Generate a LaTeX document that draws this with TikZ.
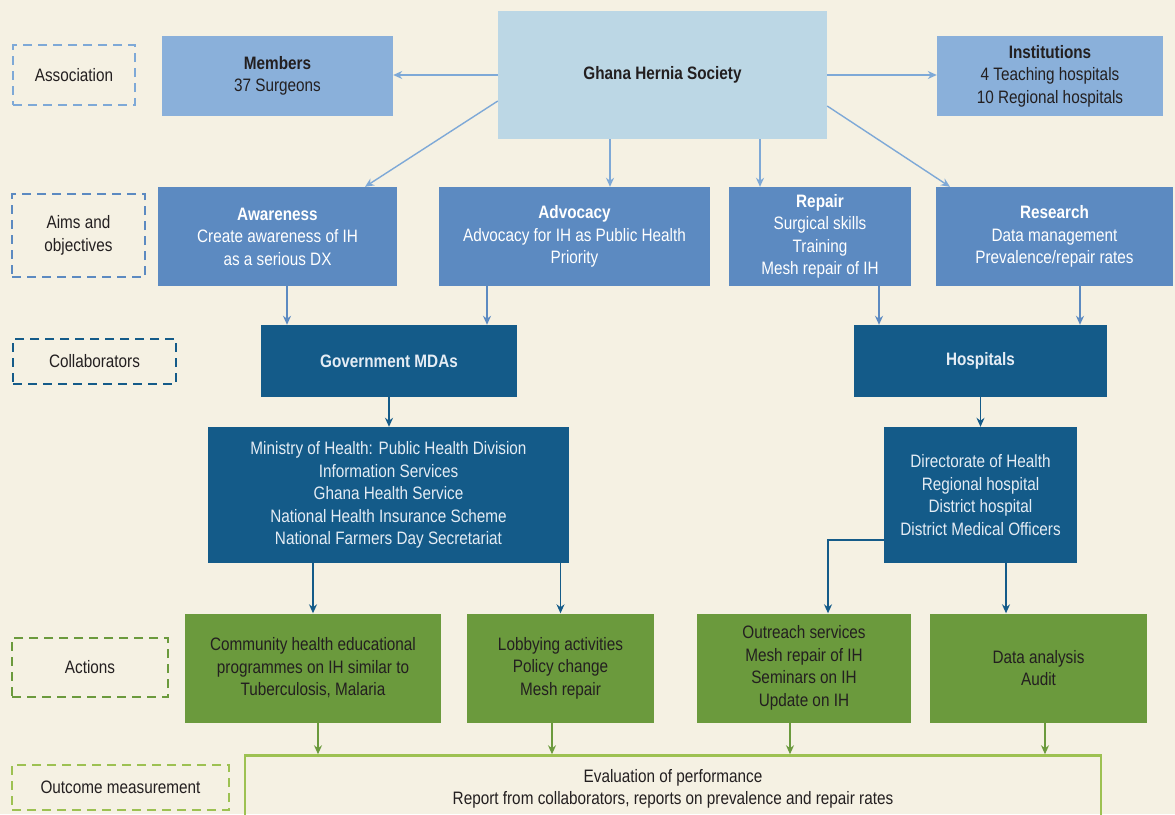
\documentclass[tikz,border=0pt]{standalone}
\usepackage{fontspec}
\setmainfont{Liberation Sans}[FakeStretch=0.85]
\usetikzlibrary{arrows.meta}
\definecolor{bgcream}{HTML}{F5F1E3}
\definecolor{ghsblue}{HTML}{BCD7E5}
\definecolor{assocblue}{HTML}{8AB0DA}
\definecolor{aimblue}{HTML}{5C8AC1}
\definecolor{collblue}{HTML}{145B89}
\definecolor{actgreen}{HTML}{6B9A3D}
\definecolor{outgreen}{HTML}{9DC152}
\definecolor{darktext}{HTML}{231F20}
\definecolor{linkblue}{HTML}{7EA9D7}
\definecolor{paletext}{HTML}{E4ECF4}

\tikzset{
  box/.style={align=center, inner sep=0pt, font=\fontsize{18}{22.5}\selectfont},
  assocbox/.style={box, fill=assocblue, text=darktext},
  aimbox/.style={box, fill=aimblue, text=white},
  collbox/.style={box, fill=collblue, text=paletext},
  actbox/.style={box, fill=actgreen, text=darktext},
  tag/.style={box, draw, line width=2pt, dash pattern=on 9pt off 6pt, text=darktext},
  arr/.style={-{Stealth[length=9pt,width=8pt]}, line width=1.4pt},
}

\begin{document}
\begin{tikzpicture}[x=1pt, y=-1pt]
  \fill[bgcream] (0, 0) rectangle (1175, 814);
  \useasboundingbox (0, 0) rectangle (1175, 814);

  \node[tag, draw=linkblue, minimum width=122pt, minimum height=60pt] (tagassoc) at (74, 75) {Association};
  \node[tag, draw=aimblue, minimum width=133pt, minimum height=83pt] (tagaims) at (78.5, 235.5) {Aims and\\objectives};
  \node[tag, draw=collblue, minimum width=163pt, minimum height=45pt] (tagcoll) at (94.5, 361.5) {Collaborators};
  \node[tag, draw=actgreen, minimum width=156pt, minimum height=59pt] (tagact) at (90, 667.5) {Actions};
  \node[tag, draw=outgreen, minimum width=217pt, minimum height=45pt] (tagout) at (120.5, 787.5) {Outcome measurement};

  \node[box, fill=ghsblue, text=darktext, minimum width=329pt, minimum height=128pt] (ghs) at (662.5, 75) {\textbf{Ghana Hernia Society}};
  \node[assocbox, minimum width=231pt, minimum height=80pt] (members) at (277.5, 76) {\textbf{Members}\\37 Surgeons};
  \node[assocbox, minimum width=226pt, minimum height=80pt] (inst) at (1050, 76) {\textbf{Institutions}\\4 Teaching hospitals\\10 Regional hospitals};

  \node[aimbox, minimum width=239pt, minimum height=99pt] (aware) at (277.5, 236.5) {\textbf{Awareness}\\Create awareness of IH\\as a serious DX};
  \node[aimbox, minimum width=271pt, minimum height=99pt] (advoc) at (574.5, 236.5) {\textbf{Advocacy}\\Advocacy for IH as Public Health\\Priority};
  \node[aimbox, minimum width=182pt, minimum height=99pt] (repair) at (820, 236.5) {\textbf{Repair}\\Surgical skills\\Training\\Mesh repair of IH};
  \node[aimbox, minimum width=237pt, minimum height=99pt] (research) at (1054.5, 236.5) {\textbf{Research}\\Data management\\Prevalence/repair rates};

  \node[collbox, minimum width=256pt, minimum height=72pt] (govt) at (389, 361) {\textbf{Government MDAs}};
  \node[collbox, minimum width=253pt, minimum height=72pt] (hosp) at (980.5, 361) {\textbf{Hospitals}};
  \node[collbox, minimum width=361pt, minimum height=136pt] (ministry) at (388.5, 495) {Ministry of Health: Public Health Division\\Information Services\\Ghana Health Service\\National Health Insurance Scheme\\National Farmers Day Secretariat};
  \node[collbox, minimum width=193pt, minimum height=136pt] (direct) at (980.5, 495) {Directorate of Health\\Regional hospital\\District hospital\\District Medical Officers};

  \node[actbox, minimum width=256pt, minimum height=109pt] (comm) at (313, 668) {Community health educational\\programmes on IH similar to\\Tuberculosis, Malaria};
  \node[actbox, minimum width=187pt, minimum height=109pt] (lobby) at (560.5, 668) {Lobbying activities\\Policy change\\Mesh repair};
  \node[actbox, minimum width=214pt, minimum height=109pt] (outreach) at (804, 668) {Outreach services\\Mesh repair of IH\\Seminars on IH\\Update on IH};
  \node[actbox, minimum width=217pt, minimum height=109pt] (data) at (1038.5, 668) {Data analysis\\Audit};

  \node[box, draw=outgreen, line width=2.5pt, text=darktext, minimum width=856pt, minimum height=67pt] (eval) at (673, 789) {Evaluation of performance\\Report from collaborators, reports on prevalence and repair rates};

  \draw[arr, linkblue] (ghs.west) -- (ghs.west -| members.east);
  \draw[arr, linkblue] (ghs.east) -- (ghs.east -| inst.west);
  \draw[arr, linkblue] ([yshift=-26pt]ghs.west) -- ([xshift=87.5pt]aware.north);
  \draw[arr, linkblue] ([xshift=-52.5pt]ghs.south) -- ([xshift=-52.5pt]ghs.south |- advoc.north);
  \draw[arr, linkblue] ([xshift=97.5pt]ghs.south) -- ([xshift=97.5pt]ghs.south |- repair.north);
  \draw[arr, linkblue] ([yshift=-31pt]ghs.east) -- ([xshift=-104.5pt]research.north);

  \draw[arr, aimblue] ([xshift=9.5pt]aware.south) -- ([xshift=9.5pt]aware.south |- govt.north);
  \draw[arr, aimblue] ([xshift=-87.5pt]advoc.south) -- ([xshift=-87.5pt]advoc.south |- govt.north);
  \draw[arr, aimblue] ([xshift=59pt]repair.south) -- ([xshift=59pt]repair.south |- hosp.north);
  \draw[arr, aimblue] ([xshift=25.5pt]research.south) -- ([xshift=25.5pt]research.south |- hosp.north);

  \draw[arr, collblue] (govt.south) -- (govt.south |- ministry.north);
  \draw[arr, collblue] (hosp.south) -- (hosp.south |- direct.north);
  \draw[arr, collblue] (comm.north |- ministry.south) -- (comm.north);
  \draw[arr, collblue] (lobby.north |- ministry.south) -- (lobby.north);
  \draw[arr, collblue] ([yshift=-45pt]direct.west) -| ([xshift=24pt]outreach.north);
  \draw[arr, collblue] ([xshift=25.5pt]direct.south) -- ([xshift=25.5pt]direct.south |- data.north);

  \draw[arr, actgreen] ([xshift=5pt]comm.south) -- ([xshift=5pt]comm.south |- eval.north);
  \draw[arr, actgreen] ([xshift=-8.5pt]lobby.south) -- ([xshift=-8.5pt]lobby.south |- eval.north);
  \draw[arr, actgreen] ([xshift=-14pt]outreach.south) -- ([xshift=-14pt]outreach.south |- eval.north);
  \draw[arr, actgreen] ([xshift=6.5pt]data.south) -- ([xshift=6.5pt]data.south |- eval.north);
\end{tikzpicture}
\end{document}
